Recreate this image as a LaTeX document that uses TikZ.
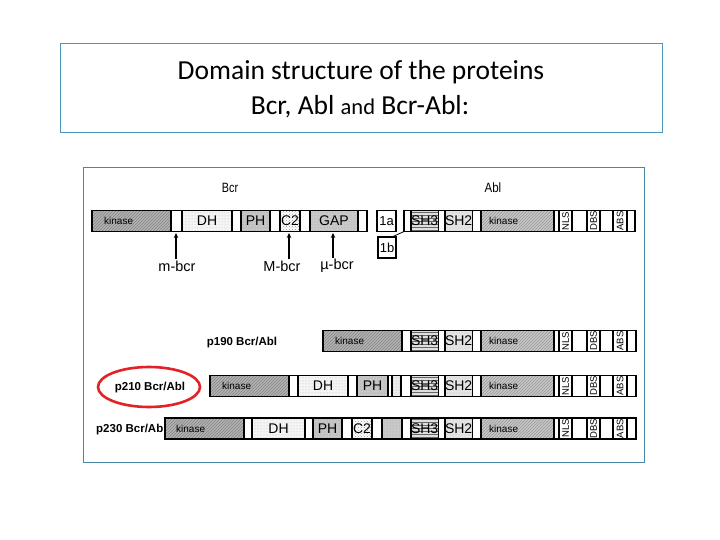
\documentclass[tikz,border=0pt]{standalone}
\usepackage{fontspec}
\setmainfont{Liberation Sans}
\newfontfamily\titlefont{Carlito}
\usetikzlibrary{patterns,arrows.meta,shapes.geometric}
\definecolor{titleblue}{RGB}{72,150,185}
\definecolor{framecol}{RGB}{70,135,165}
\definecolor{ringred}{RGB}{226,34,38}
\tikzset{
 seg/.style={draw=black, line width=1.1pt, inner sep=0pt, outer sep=0pt, minimum height=21pt},
 kinf/.style={preaction={fill=gray!60}, pattern=north east lines, pattern color=gray!95},
 ablkinf/.style={preaction={fill=gray!45}, pattern=north east lines, pattern color=gray!80},
 dhf/.style={preaction={fill=gray!8}, pattern=dots, pattern color=gray!55},
 phf/.style={preaction={fill=gray!45}, pattern=dots, pattern color=gray!80},
 c2f/.style={preaction={fill=white}, pattern=crosshatch dots, pattern color=gray!85},
 gapf/.style={preaction={fill=gray!42}, pattern=dots, pattern color=gray!75},
 sh3f/.style={preaction={fill=gray!25}, pattern=horizontal lines, pattern color=black!60},
 sh2f/.style={preaction={fill=gray!20}, pattern=dots, pattern color=gray!60},
 smf/.style={preaction={fill=gray!15}, pattern=dots, pattern color=gray!65},
 whf/.style={fill=white},
 dom/.style={font=\fontsize{14}{14}\selectfont},
 kintxt/.style={font=\fontsize{10}{10}\selectfont, anchor=west, inner sep=0pt},
 vert/.style={font=\fontsize{9.5}{9.5}\selectfont, rotate=90, inner sep=0pt},
 plabel/.style={font=\bfseries\fontsize{11.5}{12}\selectfont, inner sep=0pt},
 head/.style={font=\fontsize{13.5}{14}\selectfont, inner sep=0pt},
 bp/.style={font=\fontsize{14.5}{15}\selectfont, inner sep=1pt},
 arr/.style={line width=1.2pt, -{Stealth[length=5pt,width=4.5pt]}},
}
\newcommand{\segm}[6]{\node[seg,#2,minimum width={(#4)-(#3)},anchor=west] (#1) at (#3,#5) {#6};}
\newcommand{\ablpart}[3]{%
 \segm{#1sh3}{sh3f,dom}{411}{437}{#2}{SH3}
 \segm{#1sh2}{sh2f,dom}{445}{472}{#2}{SH2}
 \segm{#1kin}{ablkinf}{481}{554}{#2}{}
 \node[kintxt] (#1kint) at ([xshift=8pt]#1kin.west) {kinase};
 \segm{#1nls}{whf}{559}{572}{#2}{}
 \segm{#1dbs}{whf}{587}{600}{#2}{}
 \segm{#1abs}{whf}{613}{627}{#2}{}
 \node[vert] (#1nlst) at (#1nls) {NLS};
 \node[vert] (#1dbst) at (#1dbs) {DBS};
 \node[vert] (#1abst) at (#1abs) {ABS};
}
\begin{document}
\begin{tikzpicture}[x=1pt,y=-1pt]
\useasboundingbox (0,0) rectangle (720,540);
\fill[white] (0,0) rectangle (720,540);
% title
\node[draw=titleblue, line width=0.9pt, minimum width=602pt, minimum height=89pt, anchor=north west, inner sep=0pt] (tbox) at (59.5,43.5) {};
\node[anchor=base, inner sep=0pt, font=\titlefont\fontsize{27.5}{27.5}\selectfont] (t1) at (361,80) {Domain structure of the proteins};
\node[anchor=base, inner sep=0pt, font=\titlefont\fontsize{27.5}{27.5}\selectfont] (t2) at (360,115) {Bcr, Abl {\fontsize{22.5}{22.5}\selectfont and} Bcr-Abl:};
% frame
\node[draw=framecol, line width=0.9pt, minimum width=561pt, minimum height=294pt, anchor=north west, inner sep=0pt] (frame) at (82.5,167.5) {};
% headers
\node[head] (hbcr) at (230,188) {\scalebox{0.8}[1]{Bcr}};
\node[head] (habl) at (493,188) {\scalebox{0.85}[1]{Abl}};
% Bcr bar
\segm{bcrbar}{whf}{92}{367}{221}{}
\segm{bkin}{kinf}{92}{171}{221}{}
\node[kintxt] (bkint) at ([xshift=12pt]bkin.west) {kinase};
\segm{bdh}{dhf,dom}{182}{232}{221}{DH}
\segm{bph}{phf,dom}{241}{270}{221}{PH}
\segm{bc2}{c2f,dom}{280}{300}{221}{C2}
\segm{bgap}{gapf,dom}{310}{358}{221}{GAP}
% breakpoints
\coordinate (ta1) at (176,233);
\coordinate (ta2) at (289,233);
\coordinate (ta3) at (333,233);
\node[bp] (mbcr) at (177,266) {m-bcr};
\node[bp] (Mbcr) at (282,266) {M-bcr};
\node[bp] (ubcr) at (337,266) {µ-bcr};
\draw[arr] (mbcr.north -| ta1) -- (ta1);
\draw[arr] (Mbcr.north -| ta2) -- (ta2);
\draw[arr] (ubcr.north -| ta3) -- (ta3);
% Abl exons 1a/1b
\node[seg, minimum width=19pt, anchor=west, font=\fontsize{13}{13}\selectfont] (ex1a) at (377,221) {1a};
\node[seg, minimum width=18pt, anchor=west, font=\fontsize{13}{13}\selectfont] (ex1b) at (378,247.5) {1b};
% Abl bar
\segm{ablbar}{whf}{404}{635}{221}{}
\ablpart{a}{221}{635}
\draw[line width=0.8pt] ([xshift=-4pt]ex1b.north east) -- (ablbar.south west);
% p190
\node[plabel] (l190) at (242,343) {p190 Bcr/Abl};
\segm{r1bar}{whf}{323}{636}{341}{}
\segm{r1kin}{kinf}{323}{402}{341}{}
\node[kintxt] (r1kint) at ([xshift=12pt]r1kin.west) {kinase};
\ablpart{r1}{341}{636}
% p210
\node[plabel] (l210) at (150,388) {p210 Bcr/Abl};
\node[ellipse, draw=ringred, line width=2.6pt, minimum width=102pt, minimum height=40pt] (ring) at (149,387) {};
\segm{r2bar}{whf}{210}{636}{386}{}
\segm{r2kin}{kinf}{210}{289}{386}{}
\node[kintxt] (r2kint) at ([xshift=12pt]r2kin.west) {kinase};
\segm{r2dh}{dhf,dom}{298}{348}{386}{DH}
\segm{r2ph}{phf,dom}{357}{388}{386}{PH}
\segm{r2sm}{smf}{392}{401}{386}{}
\ablpart{r2}{386}{636}
% p230
\node[plabel, anchor=east] (l230) at (163.5,430) {p230 Bcr/Ab};
\segm{r3bar}{whf}{165}{636}{428.5}{}
\segm{r3kin}{kinf}{165}{244}{428.5}{}
\node[kintxt] (r3kint) at ([xshift=11pt]r3kin.west) {kinase};
\segm{r3dh}{dhf,dom}{252}{305}{428.5}{DH}
\segm{r3ph}{phf,dom}{313}{342}{428.5}{PH}
\segm{r3c2}{c2f,dom}{352}{372}{428.5}{C2}
\segm{r3gap}{gapf}{382}{402}{428.5}{}
\ablpart{r3}{428.5}{636}
\end{tikzpicture}
\end{document}
